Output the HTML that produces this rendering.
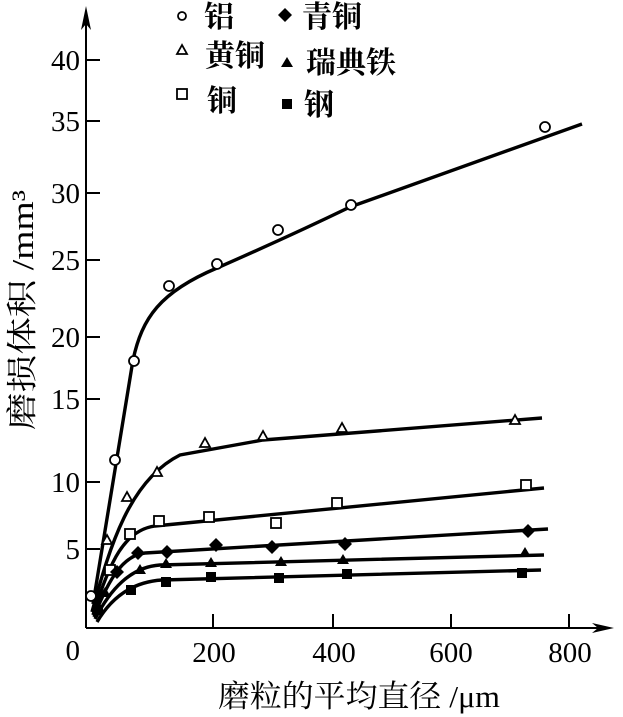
<!DOCTYPE html>
<html><head><meta charset="utf-8"><style>
html,body{margin:0;padding:0;background:#fff;}
svg{display:block;}
text{font-family:"Liberation Serif","Noto Serif CJK SC",serif;fill:#000;}
.cjk{font-family:"Liberation Serif","Noto Sans CJK SC",sans-serif;font-weight:bold;}
.lab{font-family:"Liberation Serif","Noto Serif CJK SC",serif;}
</style></head><body>
<svg width="623" height="717" viewBox="0 0 623 717" xmlns="http://www.w3.org/2000/svg">
<g stroke="#000" stroke-width="2" fill="none">
<line x1="86" y1="12" x2="86" y2="628"/>
<line x1="86" y1="628" x2="605" y2="628"/>
<line x1="86" y1="60" x2="100" y2="60"/>
<line x1="86" y1="121" x2="100" y2="121"/>
<line x1="86" y1="193" x2="100" y2="193"/>
<line x1="86" y1="260" x2="100" y2="260"/>
<line x1="86" y1="337" x2="100" y2="337"/>
<line x1="86" y1="399" x2="100" y2="399"/>
<line x1="86" y1="482" x2="100" y2="482"/>
<line x1="86" y1="549" x2="100" y2="549"/>
<line x1="213" y1="614" x2="213" y2="628"/>
<line x1="333" y1="614" x2="333" y2="628"/>
<line x1="451" y1="614" x2="451" y2="628"/>
<line x1="569" y1="614" x2="569" y2="628"/>
</g>
<polygon points="86,6 81,30 86,24 91,30" fill="#000"/>
<polygon points="614,628 592,623 598,628 592,633" fill="#000"/>
<g font-size="29" text-anchor="end">
<text x="80" y="70">40</text><text x="80" y="131">35</text><text x="80" y="203">30</text>
<text x="80" y="270">25</text><text x="80" y="347">20</text><text x="80" y="409">15</text>
<text x="80" y="492">10</text><text x="80" y="559">5</text><text x="80" y="660">0</text>
</g>
<g font-size="29" text-anchor="middle">
<text x="214" y="662">200</text><text x="334" y="662">400</text><text x="451" y="662">600</text><text x="570" y="662">800</text>
</g>
<text x="218" y="707" font-size="31" class="lab" textLength="282" lengthAdjust="spacingAndGlyphs">磨粒的平均直径 /μm</text>
<text transform="translate(33,310) rotate(-90)" text-anchor="middle" font-size="31" class="lab" textLength="240" lengthAdjust="spacingAndGlyphs">磨损体积 /mm³</text>
<!-- curves -->
<g stroke="#000" stroke-width="3.4" fill="none">
<path d="M93,604 L133,360 C142,318 160,292 217,268 Q290,236 350,207 L582,124"/>
<path d="M92,612 C110,545 130,480 180,455 L263,440 L542,418"/>
<path d="M93,615 C110,560 125,530 155,526 L544,488"/>
<path d="M94,617 C110,575 125,555 145,553 L548,529"/>
<path d="M95,619 C110,590 130,567 160,565 L544,555"/>
<path d="M97,622 C110,600 130,582 162,580 L541,570"/>
</g>
<!-- markers -->
<g stroke="#000" stroke-width="1.8" fill="#fff">
<circle cx="91" cy="596" r="5"/><circle cx="115" cy="460" r="5"/><circle cx="134" cy="361" r="5"/>
<circle cx="169" cy="286" r="5"/><circle cx="217" cy="264" r="5"/><circle cx="278" cy="230" r="5"/>
<circle cx="351" cy="205" r="5"/><circle cx="545" cy="127" r="5"/>
<circle cx="182" cy="16" r="4"/>
</g>
<g stroke="#000" stroke-width="1.8" fill="#fff">
<path d="M107,535 l-5,9 h10z"/><path d="M127,492 l-5,9 h10z"/><path d="M157,467 l-5,9 h10z"/>
<path d="M205,438 l-5,9 h10z"/><path d="M263,431 l-5,9 h10z"/><path d="M342,423 l-5,9 h10z"/>
<path d="M515,415 l-5,9 h10z"/><path d="M182,45 l-5,9 h10z"/>
<rect x="105" y="565" width="10" height="10"/><rect x="125" y="529" width="10" height="10"/>
<rect x="154" y="516" width="10" height="10"/><rect x="204" y="512" width="10" height="10"/>
<rect x="271" y="518" width="10" height="10"/><rect x="332" y="498" width="10" height="10"/>
<rect x="521" y="480" width="10" height="10"/><rect x="177" y="89" width="10" height="10"/>
</g>
<g fill="#000">
<path d="M117,565 l7,7 l-7,7 l-7,-7z"/><path d="M138,546 l7,7 l-7,7 l-7,-7z"/><path d="M167,545 l7,7 l-7,7 l-7,-7z"/>
<path d="M216,538 l7,7 l-7,7 l-7,-7z"/><path d="M272,540 l7,7 l-7,7 l-7,-7z"/><path d="M345,537 l7,7 l-7,7 l-7,-7z"/>
<path d="M528,524 l7,7 l-7,7 l-7,-7z"/><path d="M285,8 l7,7 l-7,7 l-7,-7z"/>
<path d="M105,587 l-6,10 h12z"/><path d="M140,564 l-6,10 h12z"/><path d="M166,558 l-6,10 h12z"/>
<path d="M211,557 l-6,10 h12z"/><path d="M281,556 l-6,10 h12z"/><path d="M343,554 l-6,10 h12z"/>
<path d="M525,547 l-6,10 h12z"/><path d="M287,57 l-6,10 h12z"/>
<rect x="93" y="605" width="10" height="10"/><rect x="126" y="585" width="10" height="10"/>
<rect x="161" y="577" width="10" height="10"/><rect x="206" y="572" width="10" height="10"/>
<rect x="274" y="573" width="10" height="10"/><rect x="342" y="569" width="10" height="10"/>
<rect x="517" y="568" width="10" height="10"/><rect x="282" y="99" width="10" height="10"/>
</g>
<g font-size="30" class="cjk">
<text x="204" y="27">铝</text><text x="205" y="66">黄铜</text><text x="207" y="111">铜</text>
<text x="302" y="27">青铜</text><text x="306" y="73">瑞典铁</text><text x="304" y="115">钢</text>
</g>
</svg>
</body></html>
